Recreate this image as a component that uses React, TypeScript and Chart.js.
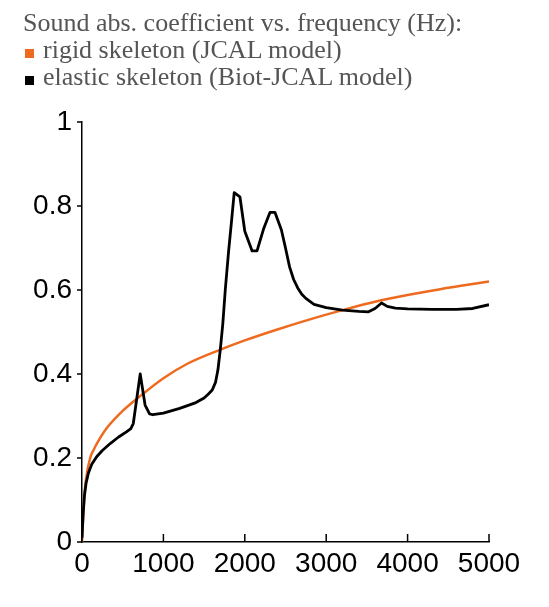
import { useEffect, useRef } from 'react';
import Chart, { Plugin } from 'chart.js/auto';

// frequency (Hz) and absorption coefficient
const freqRigid = [0, 25, 50, 100, 150, 200, 300, 500, 700, 1000, 1300, 1700, 2000, 2400, 2800, 3200, 3600, 4000, 4400, 5000];
const absRigid = [0.0, 0.1, 0.15, 0.2, 0.222, 0.24, 0.27, 0.312, 0.345, 0.39, 0.425, 0.458, 0.48, 0.506, 0.53, 0.552, 0.572, 0.588, 0.602, 0.62];

const freqElastic = [
  0, 15, 30, 50, 80, 120, 180, 250, 350, 450, 550, 600, 630, 715, 775, 830, 870, 1000, 1200, 1400, 1500, 1550, 1600, 1640,
  1670, 1700, 1730, 1760, 1800, 1840, 1870, 1940, 2000, 2090, 2150, 2230, 2310, 2370, 2450, 2500, 2550, 2600, 2650, 2700,
  2750, 2850, 3000, 3200, 3400, 3520, 3600, 3680, 3750, 3850, 4000, 4300, 4600, 4800, 5000,
];
const absElastic = [
  0.01, 0.07, 0.11, 0.14, 0.165, 0.185, 0.203, 0.218, 0.235, 0.25, 0.263, 0.27, 0.282, 0.4, 0.326, 0.305, 0.303, 0.307,
  0.318, 0.332, 0.343, 0.352, 0.362, 0.38, 0.41, 0.46, 0.52, 0.6, 0.69, 0.77, 0.832, 0.822, 0.74, 0.693, 0.693, 0.745,
  0.785, 0.785, 0.743, 0.7, 0.655, 0.625, 0.605, 0.59, 0.58, 0.566, 0.558, 0.552, 0.549, 0.548, 0.556, 0.569, 0.561, 0.557,
  0.555, 0.554, 0.554, 0.556, 0.565,
];

const xTicks = [0, 1000, 2000, 3000, 4000, 5000];
const yTicks = [0, 0.2, 0.4, 0.6, 0.8, 1];

const title = 'Sound abs. coefficient vs. frequency (Hz):';
const seriesNames = ['rigid skeleton (JCAL model)', 'elastic skeleton (Biot-JCAL model)'];
const seriesColors = ['#ee6a1f', '#000000'];

const toPoints = (xs: number[], ys: number[]) => xs.map((x, i) => ({ x, y: ys[i] }));

// short tick marks: x ticks point up into the plot, y ticks point left
const tickMarks: Plugin = {
  id: 'tickMarks',
  afterDraw(chart) {
    const { ctx, scales } = chart;
    const x = scales.x;
    const y = scales.y;
    ctx.save();
    ctx.strokeStyle = '#000';
    ctx.lineWidth = 1.5;
    ctx.beginPath();
    xTicks.forEach((v) => {
      const px = x.getPixelForValue(v);
      ctx.moveTo(px, x.top);
      ctx.lineTo(px, x.top - 8);
    });
    yTicks.forEach((v) => {
      const py = y.getPixelForValue(v);
      ctx.moveTo(y.right, py);
      ctx.lineTo(y.right - 5, py);
    });
    ctx.stroke();
    ctx.restore();
  },
};

const AbsorptionChart = () => {
  const canvasRef = useRef<HTMLCanvasElement>(null);

  useEffect(() => {
    const ctx = canvasRef.current?.getContext('2d');
    if (!ctx) return;

    const chart = new Chart(ctx, {
      type: 'line',
      data: {
        datasets: [
          {
            label: seriesNames[1],
            data: toPoints(freqElastic, absElastic),
            borderColor: seriesColors[1],
            borderWidth: 2.8,
            tension: 0,
            borderJoinStyle: 'round',
            order: 0,
          },
          {
            label: seriesNames[0],
            data: toPoints(freqRigid, absRigid),
            borderColor: seriesColors[0],
            borderWidth: 2.5,
            cubicInterpolationMode: 'monotone',
            order: 1,
          },
        ],
      },
      options: {
        animation: false,
        responsive: true,
        maintainAspectRatio: false,
        parsing: false,
        elements: { point: { radius: 0 } },
        layout: { padding: { top: 122, right: 60, left: 0, bottom: 0 } },
        plugins: {
          legend: { display: false },
          tooltip: { enabled: false },
        },
        scales: {
          x: {
            type: 'linear',
            min: 0,
            max: 5000,
            afterFit: (scale) => {
              scale.height = 65;
            },
            afterBuildTicks: (scale) => {
              scale.ticks = xTicks.map((value) => ({ value }));
            },
            border: { color: '#000', width: 1.5 },
            grid: { display: false, drawTicks: false },
            ticks: {
              padding: 5,
              color: '#000',
              font: { family: 'Liberation Sans, Arial, sans-serif', size: 28 },
              callback: (v) => String(v),
            },
          },
          y: {
            min: 0,
            max: 1,
            afterFit: (scale) => {
              scale.width = 82;
            },
            afterBuildTicks: (scale) => {
              scale.ticks = yTicks.map((value) => ({ value }));
            },
            border: { color: '#000', width: 1.5 },
            grid: { display: false, drawTicks: false },
            ticks: {
              padding: 10,
              color: '#000',
              font: { family: 'Liberation Sans, Arial, sans-serif', size: 28 },
              callback: (v) => String(Math.round(Number(v) * 10) / 10),
            },
          },
        },
      },
      plugins: [tickMarks],
    });

    return () => chart.destroy();
  }, []);

  return <canvas ref={canvasRef} />;
};

const headerLine: React.CSSProperties = {
  position: 'absolute',
  left: 23,
  fontFamily: '"Liberation Serif", "Times New Roman", serif',
  fontSize: 26,
  lineHeight: '27px',
  color: '#555',
  whiteSpace: 'nowrap',
};

const square = (color: string): React.CSSProperties => ({
  display: 'inline-block',
  width: 9,
  height: 9,
  background: color,
  marginLeft: 2,
  marginRight: 9,
});

export default function App() {
  return (
    <div style={{ position: 'fixed', left: 0, top: 0, width: 549, height: 607, background: '#fff' }}>
      <div style={{ position: 'absolute', left: 0, top: 0, width: 549, height: 607 }}>
        <AbsorptionChart />
      </div>
      <div style={{ ...headerLine, top: 9 }}>{title}</div>
      <div style={{ ...headerLine, top: 36 }}>
        <span style={square(seriesColors[0])} />
        {seriesNames[0]}
      </div>
      <div style={{ ...headerLine, top: 63 }}>
        <span style={square(seriesColors[1])} />
        {seriesNames[1]}
      </div>
    </div>
  );
}
